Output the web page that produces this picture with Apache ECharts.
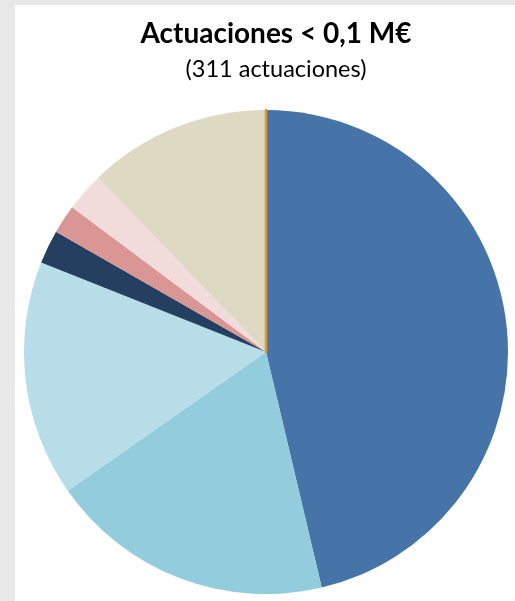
<!DOCTYPE html>
<html><head><meta charset="utf-8">
<script src="https://cdn.jsdelivr.net/npm/echarts@6/dist/echarts.min.js"></script>
<style>html,body{margin:0;padding:0;background:#e8e8e8}#c{width:515px;height:601px}</style>
</head><body><div id="c"></div>
<script>
const categories = ['Cat. 1','Cat. 2','Cat. 3','Cat. 4','Cat. 5','Cat. 6','Cat. 7','Cat. 8'];
const values = [144, 59, 49, 7, 6, 8, 38, 0];
const colors = ['#4674A8','#93CDDD','#B7DEE8','#243F60','#D99694','#F2DCDB','#DDD9C3','#E3922F'];
const titleText = 'Actuaciones < 0,1 M€';
const subtitleText = '(311 actuaciones)';

const chart = echarts.init(document.getElementById('c'));
chart.setOption({
  backgroundColor: '#e8e8e8',
  animation: false,
  graphic: [{ type: 'rect', z: -10, shape: { x: 15, y: 5, width: 500, height: 596 }, style: { fill: '#ffffff' } }],
  title: {
    text: titleText, subtext: subtitleText, left: 271, top: 14, textAlign: 'center', itemGap: 8,
    textStyle: { fontFamily: 'Lato', fontWeight: 'bold', fontSize: 28, color: '#000', lineHeight: 30 },
    subtextStyle: { fontFamily: 'Lato', fontSize: 23.5, color: '#000', lineHeight: 25 }
  },
  series: [{
    type: 'pie', center: [266, 352], radius: 242, startAngle: 90, clockwise: true,
    label: { show: false }, labelLine: { show: false }, silent: true,
    data: categories.map((c, i) => ({
      name: c, value: values[i],
      itemStyle: i === 7 ? { color: colors[i], borderColor: colors[i], borderWidth: 2.5 } : { color: colors[i] }
    }))
  }]
});
</script></body></html>
